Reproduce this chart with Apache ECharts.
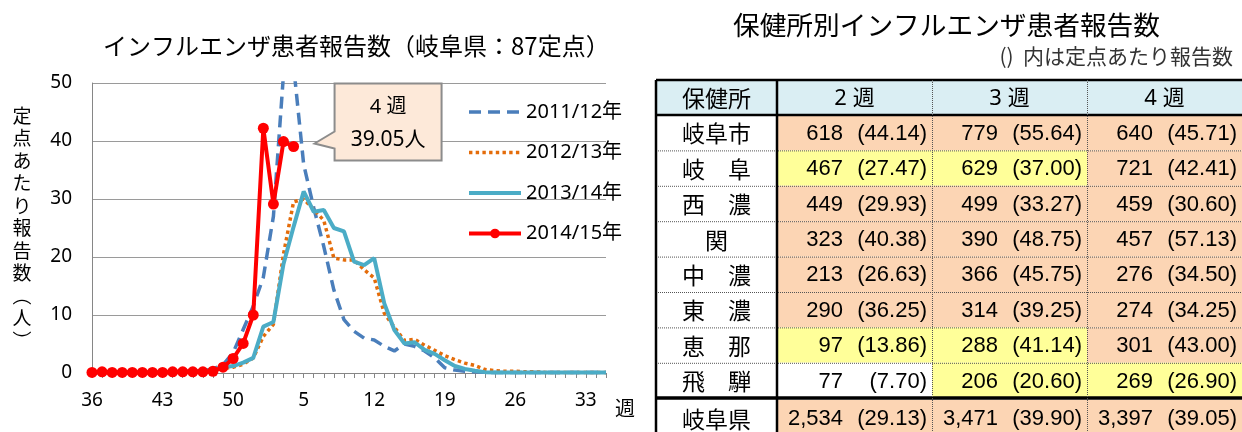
<!DOCTYPE html>
<html>
<head>
<meta charset="utf-8">
<script src="https://cdn.jsdelivr.net/npm/echarts@6/dist/echarts.min.js"></script>
<style>
    html,body{margin:0;padding:0;background:#fff;}
    #chart01{width:1242px;height:432px;}
</style>
</head>
<body>
<div id="chart01"></div>
<script>
// 週
var weeks = ['36','37','38','39','40','41','42','43','44','45','46','47','48','49','50','51','52',
    '1','2','3','4','5','6','7','8','9','10','11','12','13','14','15','16','17','18','19','20',
    '21','22','23','24','25','26','27','28','29','30','31','32','33','34','35'];
var seasonNames = ['2011/12年','2012/13年','2013/14年','2014/15年'];

var s2011 = [0.1,0.1,0.1,0.1,0.1,0.1,0.1,0.1,0.1,0.2,0.3,0.4,0.7,1.4,3.5,7.5,11.5,
    16.5,27.0,51.5,53.0,36.0,28.5,21.8,14.3,9.2,7.2,6.0,5.7,4.6,3.8,5.0,4.6,3.8,2.6,0.9,0.5,
    0.3,0.2,0.1,0.1,0.1,0.1,0.1,0.1,0.1,0.1,0.1,0.1,0.1,0.1,0.1];
var s2012 = [0.1,0.1,0.1,0.1,0.1,0.1,0.1,0.1,0.1,0.2,0.3,0.4,0.6,0.8,1.0,1.5,2.6,
    6.3,8.4,20.5,29.5,30.0,28.2,26.3,19.8,19.5,19.5,17.8,16.4,10.3,7.9,5.6,5.8,4.8,3.9,3.0,2.3,
    1.7,1.3,0.6,0.4,0.3,0.3,0.2,0.2,0.1,0.1,0.1,0.1,0.1,0.1,0.1];
var s2013 = [0.1,0.1,0.1,0.1,0.1,0.1,0.1,0.1,0.1,0.2,0.3,0.4,0.6,1.0,1.2,1.8,2.6,
    8.0,8.8,18.8,25.2,31.3,27.8,28.1,25.0,24.4,19.2,18.6,19.8,12.0,7.4,5.1,5.3,4.0,3.3,2.2,1.2,
    0.7,0.4,0.15,0.1,0.1,0.1,0.1,0.1,0.1,0.1,0.1,0.1,0.1,0.1,0.1];
var s2014 = [0.1,0.2,0.1,0.1,0.1,0.1,0.1,0.1,0.2,0.2,0.2,0.2,0.3,1.0,2.5,5.1,10.0,
    42.2,29.13,39.90,39.05];

// 保健所別
var centers = ['岐阜市','岐　阜','西　濃','関','中　濃','東　濃','恵　那','飛　騨'];
var weekHeads = ['2 週','3 週','4 週'];
var count2 = [618,467,449,323,213,290,97,77];
var rate2 = [44.14,27.47,29.93,40.38,26.63,36.25,13.86,7.70];
var level2 = ['alert','advisory','alert','alert','alert','alert','advisory','none'];
var count3 = [779,629,499,390,366,314,288,206];
var rate3 = [55.64,37.00,33.27,48.75,45.75,39.25,41.14,20.60];
var level3 = ['alert','advisory','alert','alert','alert','alert','advisory','advisory'];
var count4 = [640,721,459,457,276,274,301,269];
var rate4 = [45.71,42.41,30.60,57.13,34.50,34.25,43.00,26.90];
var level4 = ['alert','alert','alert','alert','alert','alert','alert','advisory'];
var totalName = '岐阜県';
var totalCount = [2534,3471,3397];
var totalRate = [29.13,39.90,39.05];
var totalLevel = ['alert','alert','alert'];

var cjk = '"Noto Sans CJK JP"';
var latin = '"Noto Sans","Noto Sans CJK JP"';
var numFont = '"Liberation Sans"';

var blueLine = {width: 3.5, type: [12, 7], color: '#4a7ebb', cap: 'butt'};
var orangeLine = {width: 3.5, type: [3.4, 3.3], color: '#e46c0a', cap: 'butt'};
var tealLine = {width: 4, color: '#4bacc6'};
var redLine = {width: 4, color: '#ff0000'};

var myChart = echarts.init(document.getElementById('chart01'));

option = {
    animation: false,
    backgroundColor: '#fff',
    title: [{
        text: 'インフルエンザ患者報告数（岐阜県：87定点）',
        left: 103, top: 34, padding: 0,
        textStyle: {fontFamily: cjk, fontSize: 24, fontWeight: 'normal', color: '#000'}
    }, {
        text: '保健所別インフルエンザ患者報告数',
        left: 733, top: 12, padding: 0,
        textStyle: {fontFamily: cjk, fontSize: 26.7, fontWeight: 'normal', color: '#000'}
    }, {
        text: '()  内は定点あたり報告数',
        right: 9, top: 46, padding: 0,
        textStyle: {fontFamily: cjk, fontSize: 21, fontWeight: 'normal', color: '#333'}
    }],
    legend: {
        orient: 'vertical',
        left: 462, top: 97,
        itemWidth: 52, itemHeight: 12, itemGap: 20.5,
        selectedMode: false,
        textStyle: {fontFamily: latin, fontSize: 20, color: '#000', lineHeight: 20},
        data: [
            {name: seasonNames[0], itemStyle: {opacity: 0}, lineStyle: blueLine},
            {name: seasonNames[1], itemStyle: {opacity: 0}, lineStyle: orangeLine},
            {name: seasonNames[2], itemStyle: {opacity: 0}, lineStyle: tealLine},
            {name: seasonNames[3], lineStyle: redLine}
        ]
    },
    grid: {left: 92, right: 636, top: 83, bottom: 59},
    xAxis: {
        type: 'category',
        data: weeks,
        boundaryGap: false,
        axisLine: {lineStyle: {color: '#868686', width: 1}},
        axisTick: {show: true, interval: 0, length: 5, lineStyle: {color: '#868686'}},
        axisLabel: {interval: 6, margin: 18, fontFamily: latin, fontSize: 19, color: '#000'}
    },
    yAxis: {
        type: 'value',
        min: 0, max: 50, interval: 10,
        name: '定\n点\nあ\nた\nり\n報\n告\n数\n︵\n人\n︶',
        nameLocation: 'middle',
        nameRotate: 0,
        nameGap: 70,
        nameTextStyle: {fontFamily: cjk, fontSize: 19, color: '#000', lineHeight: 22.5,
            align: 'center', verticalAlign: 'middle'},
        axisLine: {show: true, lineStyle: {color: '#868686', width: 1}},
        axisTick: {show: false},
        splitLine: {lineStyle: {color: '#9a9a9a', width: 1}},
        axisLabel: {margin: 20, fontFamily: latin, fontSize: 19, color: '#000'}
    },
    series: [{
        name: seasonNames[0], type: 'line', data: s2011,
        symbol: 'none', color: '#4a7ebb', lineStyle: blueLine
    }, {
        name: seasonNames[1], type: 'line', data: s2012,
        symbol: 'none', color: '#e46c0a', lineStyle: orangeLine
    }, {
        name: seasonNames[2], type: 'line', data: s2013,
        symbol: 'none', color: '#4bacc6', lineStyle: tealLine
    }, {
        name: seasonNames[3], type: 'line', data: s2014,
        symbol: 'circle', symbolSize: 11, showSymbol: true, showAllSymbol: true, color: '#ff0000',
        itemStyle: {color: '#ff0000'}, lineStyle: redLine
    }]
};
myChart.setOption(option);

// 軸の単位 "週"
var axisEnd = myChart.convertToPixel({xAxisIndex: 0, yAxisIndex: 0}, [weeks.length - 1, 0]);
var graphics = [{
    type: 'text',
    style: {text: '週', x: axisEnd[0] + 9, y: axisEnd[1] + 35, textAlign: 'left', textVerticalAlign: 'middle',
        font: '20px ' + cjk, fill: '#000'}
}];

// 吹き出し (最新週)
var lastIdx = s2014.length - 1;
var p = myChart.convertToPixel({xAxisIndex: 0, yAxisIndex: 0}, [lastIdx, s2014[lastIdx]]);
var bx0 = p[0] + 41, bx1 = p[0] + 148, by0 = p[1] - 63, by1 = p[1] + 14;
graphics.push({
    type: 'polygon',
    shape: {points: [[bx0, by0], [bx1, by0], [bx1, by1], [bx0, by1], [bx0, p[1] + 2],
        [p[0] + 21, p[1] - 3], [bx0, p[1] - 15]]},
    style: {fill: '#fde9d9', stroke: '#8c8c8c', lineWidth: 2},
    z: 10
}, {
    type: 'text', z: 11,
    style: {text: weeks[lastIdx] + ' 週', x: (bx0 + bx1) / 2, y: by0 + 24,
        textAlign: 'center', textVerticalAlign: 'middle', font: '20px ' + latin, fill: '#000'}
}, {
    type: 'text', z: 11,
    style: {text: s2014[lastIdx].toFixed(2) + '人', x: (bx0 + bx1) / 2, y: by0 + 57,
        textAlign: 'center', textVerticalAlign: 'middle', font: '21px ' + latin, fill: '#000'}
});

// 表
var colX = [656, 777, 932, 1087, 1242];
var tTop = 80, headH = 35, rowH = 35.4, totTop = 400, totH = 36;
var fills = {alert: '#fcd5b4', advisory: '#ffff99', none: '#ffffff'};
var counts = [count2, count3, count4], rates = [rate2, rate3, rate4], levels = [level2, level3, level4];

function cellText(txt, x, y, align, font) {
    return {type: 'text', style: {text: txt, x: x, y: y, textAlign: align, textVerticalAlign: 'middle',
        font: font, fill: '#000'}};
}
function fmtCount(v) { return v.toLocaleString('en-US'); }
function fmtRate(v) { return '(' + v.toFixed(2) + ')'; }
function addRow(y, h, name, cnts, rts, lvls) {
    graphics.push({type: 'rect', shape: {x: colX[0], y: y, width: colX[1] - colX[0], height: h}, style: {fill: '#fff'}});
    graphics.push(cellText(name, (colX[0] + colX[1]) / 2, y + h / 2 + 1, 'center', '23px ' + cjk));
    for (var c = 0; c < 3; c++) {
        graphics.push({type: 'rect', shape: {x: colX[c + 1], y: y, width: colX[c + 2] - colX[c + 1], height: h},
            style: {fill: fills[lvls[c]]}});
        graphics.push(cellText(fmtCount(cnts[c]), colX[c + 1] + 66, y + h / 2 + 1, 'right', '22px ' + numFont));
        graphics.push(cellText(fmtRate(rts[c]), colX[c + 2] - 5, y + h / 2 + 1, 'right', '22px ' + numFont));
    }
}
// 見出し
graphics.push({type: 'rect', shape: {x: colX[0], y: tTop, width: colX[4] - colX[0], height: headH}, style: {fill: '#daeef3'}});
graphics.push(cellText('保健所', (colX[0] + colX[1]) / 2, tTop + headH / 2 + 1, 'center', '23px ' + cjk));
for (var c = 0; c < 3; c++) {
    graphics.push(cellText(weekHeads[c], (colX[c + 1] + colX[c + 2]) / 2, tTop + headH / 2 + 1, 'center', '22px ' + latin));
}
for (var r = 0; r < centers.length; r++) {
    addRow(tTop + headH + r * rowH, rowH, centers[r],
        [counts[0][r], counts[1][r], counts[2][r]], [rates[0][r], rates[1][r], rates[2][r]],
        [levels[0][r], levels[1][r], levels[2][r]]);
}
addRow(totTop, totH, totalName, totalCount, totalRate, totalLevel);

function hline(y, w, dash) {
    graphics.push({type: 'line', z: 5, shape: {x1: colX[0], y1: y, x2: colX[4], y2: y},
        style: {stroke: dash ? '#555' : '#000', lineWidth: w, lineDash: dash ? [1, 1] : null}});
}
function vline(x, w, dash) {
    graphics.push({type: 'line', z: 5, shape: {x1: x, y1: tTop, x2: x, y2: totTop + totH},
        style: {stroke: dash ? '#555' : '#000', lineWidth: w, lineDash: dash ? [1, 1] : null}});
}
for (var r = 1; r < centers.length; r++) hline(tTop + headH + r * rowH + 0.5, 1, true);
hline(tTop, 2.5, false);
hline(tTop + headH, 2.5, false);
hline(totTop - 2, 3.5, false);
vline(colX[0], 2.5, false);
vline(colX[1], 2.5, false);
vline(colX[2] + 0.5, 1, true);
vline(colX[3] + 0.5, 1, true);

myChart.setOption({graphic: graphics});
</script>
</body>
</html>
